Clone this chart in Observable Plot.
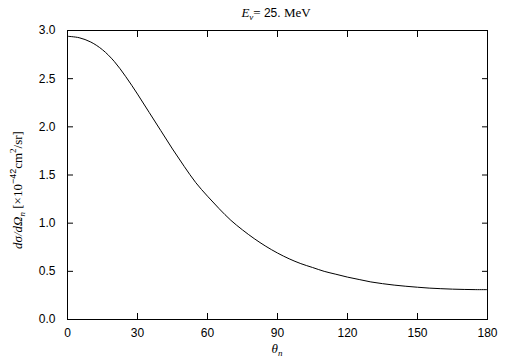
<!DOCTYPE html>
<html>
<head>
<meta charset="utf-8">
<script src="https://cdn.jsdelivr.net/npm/d3@7"></script>
<script src="https://cdn.jsdelivr.net/npm/@observablehq/plot@0.6"></script>
<style>
  html, body { margin: 0; padding: 0; background: white; }
  #chart svg { display: block; }
</style>
</head>
<body>
<div id="chart"></div>
<script>
// Scattering angle (degrees) and differential cross section (x10^-42 cm^2/sr)
const theta = [0, 5, 10, 15, 20, 25, 30, 35, 40, 45, 50, 55, 60, 65, 70, 75, 80, 85, 90,
  95, 100, 105, 110, 115, 120, 125, 130, 135, 140, 145, 150, 155, 160, 165, 170, 175, 180];
const crossSection = [2.94, 2.925, 2.88, 2.80, 2.68, 2.52, 2.34, 2.15, 1.96, 1.77, 1.59, 1.42,
  1.28, 1.15, 1.03, 0.93, 0.84, 0.76, 0.69, 0.63, 0.58, 0.54, 0.50, 0.47, 0.44, 0.415, 0.39,
  0.372, 0.357, 0.345, 0.335, 0.326, 0.32, 0.315, 0.312, 0.31, 0.31];
const xTicks = [0, 30, 60, 90, 120, 150, 180];
const yTicks = [0.0, 0.5, 1.0, 1.5, 2.0, 2.5, 3.0];

const data = theta.map((t, i) => ({theta: t, value: crossSection[i]}));
const blank = () => "";

const chart = Plot.plot({
  width: 505,
  height: 361,
  marginLeft: 67,
  marginRight: 18,
  marginTop: 30,
  marginBottom: 42,
  x: {domain: [0, 180]},
  y: {domain: [0, 3]},
  style: {fontFamily: "'Liberation Sans', Arial, sans-serif", fontSize: "12px", background: "white", color: "black"},
  marks: [
    Plot.axisX(xTicks, {anchor: "bottom", tickSize: -6, tickFormat: blank, label: null}),
    Plot.axisX(xTicks, {anchor: "top", tickSize: -6, tickFormat: blank, label: null}),
    Plot.axisY(yTicks, {anchor: "left", tickSize: -6, tickFormat: blank, label: null}),
    Plot.axisY(yTicks, {anchor: "right", tickSize: -6, tickFormat: blank, label: null}),
    Plot.axisX(xTicks, {anchor: "bottom", tickSize: 0, tickPadding: 9, tickFormat: d => String(d), label: null}),
    Plot.axisY(yTicks, {anchor: "left", tickSize: 0, tickPadding: 12, tickFormat: d => d.toFixed(1), label: null}),
    Plot.frame({stroke: "black", strokeWidth: 1}),
    Plot.line(data, {x: "theta", y: "value", stroke: "black", strokeWidth: 1, curve: "catmull-rom"})
  ]
});

document.getElementById("chart").appendChild(chart);

const svg = d3.select(chart);
const serif = "'Liberation Serif', 'Times New Roman', serif";
const sans = "'Liberation Sans', Arial, sans-serif";

// Title
const title = svg.append("text")
  .attr("x", 276).attr("y", 17)
  .attr("text-anchor", "middle")
  .attr("font-family", serif)
  .attr("font-size", 13)
  .attr("fill", "black");
title.append("tspan").attr("font-style", "italic").text("E");
title.append("tspan").attr("font-style", "italic").attr("font-size", 9).attr("dy", 3).text("ν");
title.append("tspan").attr("dy", -3).text("= ");
title.append("tspan").attr("font-family", sans).attr("font-size", 12).text("25.");
title.append("tspan").text(" MeV");

// X label
const xl = svg.append("text")
  .attr("x", 277).attr("y", 353)
  .attr("text-anchor", "middle")
  .attr("font-family", serif)
  .attr("font-size", 13)
  .attr("fill", "black");
xl.append("tspan").attr("font-style", "italic").text("θ");
xl.append("tspan").attr("font-style", "italic").attr("font-size", 9).attr("dy", 3).text("n");

// Y label
const yl = svg.append("text")
  .attr("transform", "translate(22,190) rotate(-90)")
  .attr("text-anchor", "middle")
  .attr("font-family", serif)
  .attr("font-size", 13)
  .attr("fill", "black");
yl.append("tspan").attr("font-style", "italic").text("dσ/dΩ");
yl.append("tspan").attr("font-style", "italic").attr("font-size", 9).attr("dy", 3).text("n");
yl.append("tspan").attr("dy", -3).text(" [×10");
yl.append("tspan").attr("font-family", sans).attr("font-size", 9).attr("dy", -6).text("−42");
yl.append("tspan").attr("dy", 6).text("cm");
yl.append("tspan").attr("font-size", 9).attr("dy", -6).text("2");
yl.append("tspan").attr("dy", 6).text("/sr]");
</script>
</body>
</html>
